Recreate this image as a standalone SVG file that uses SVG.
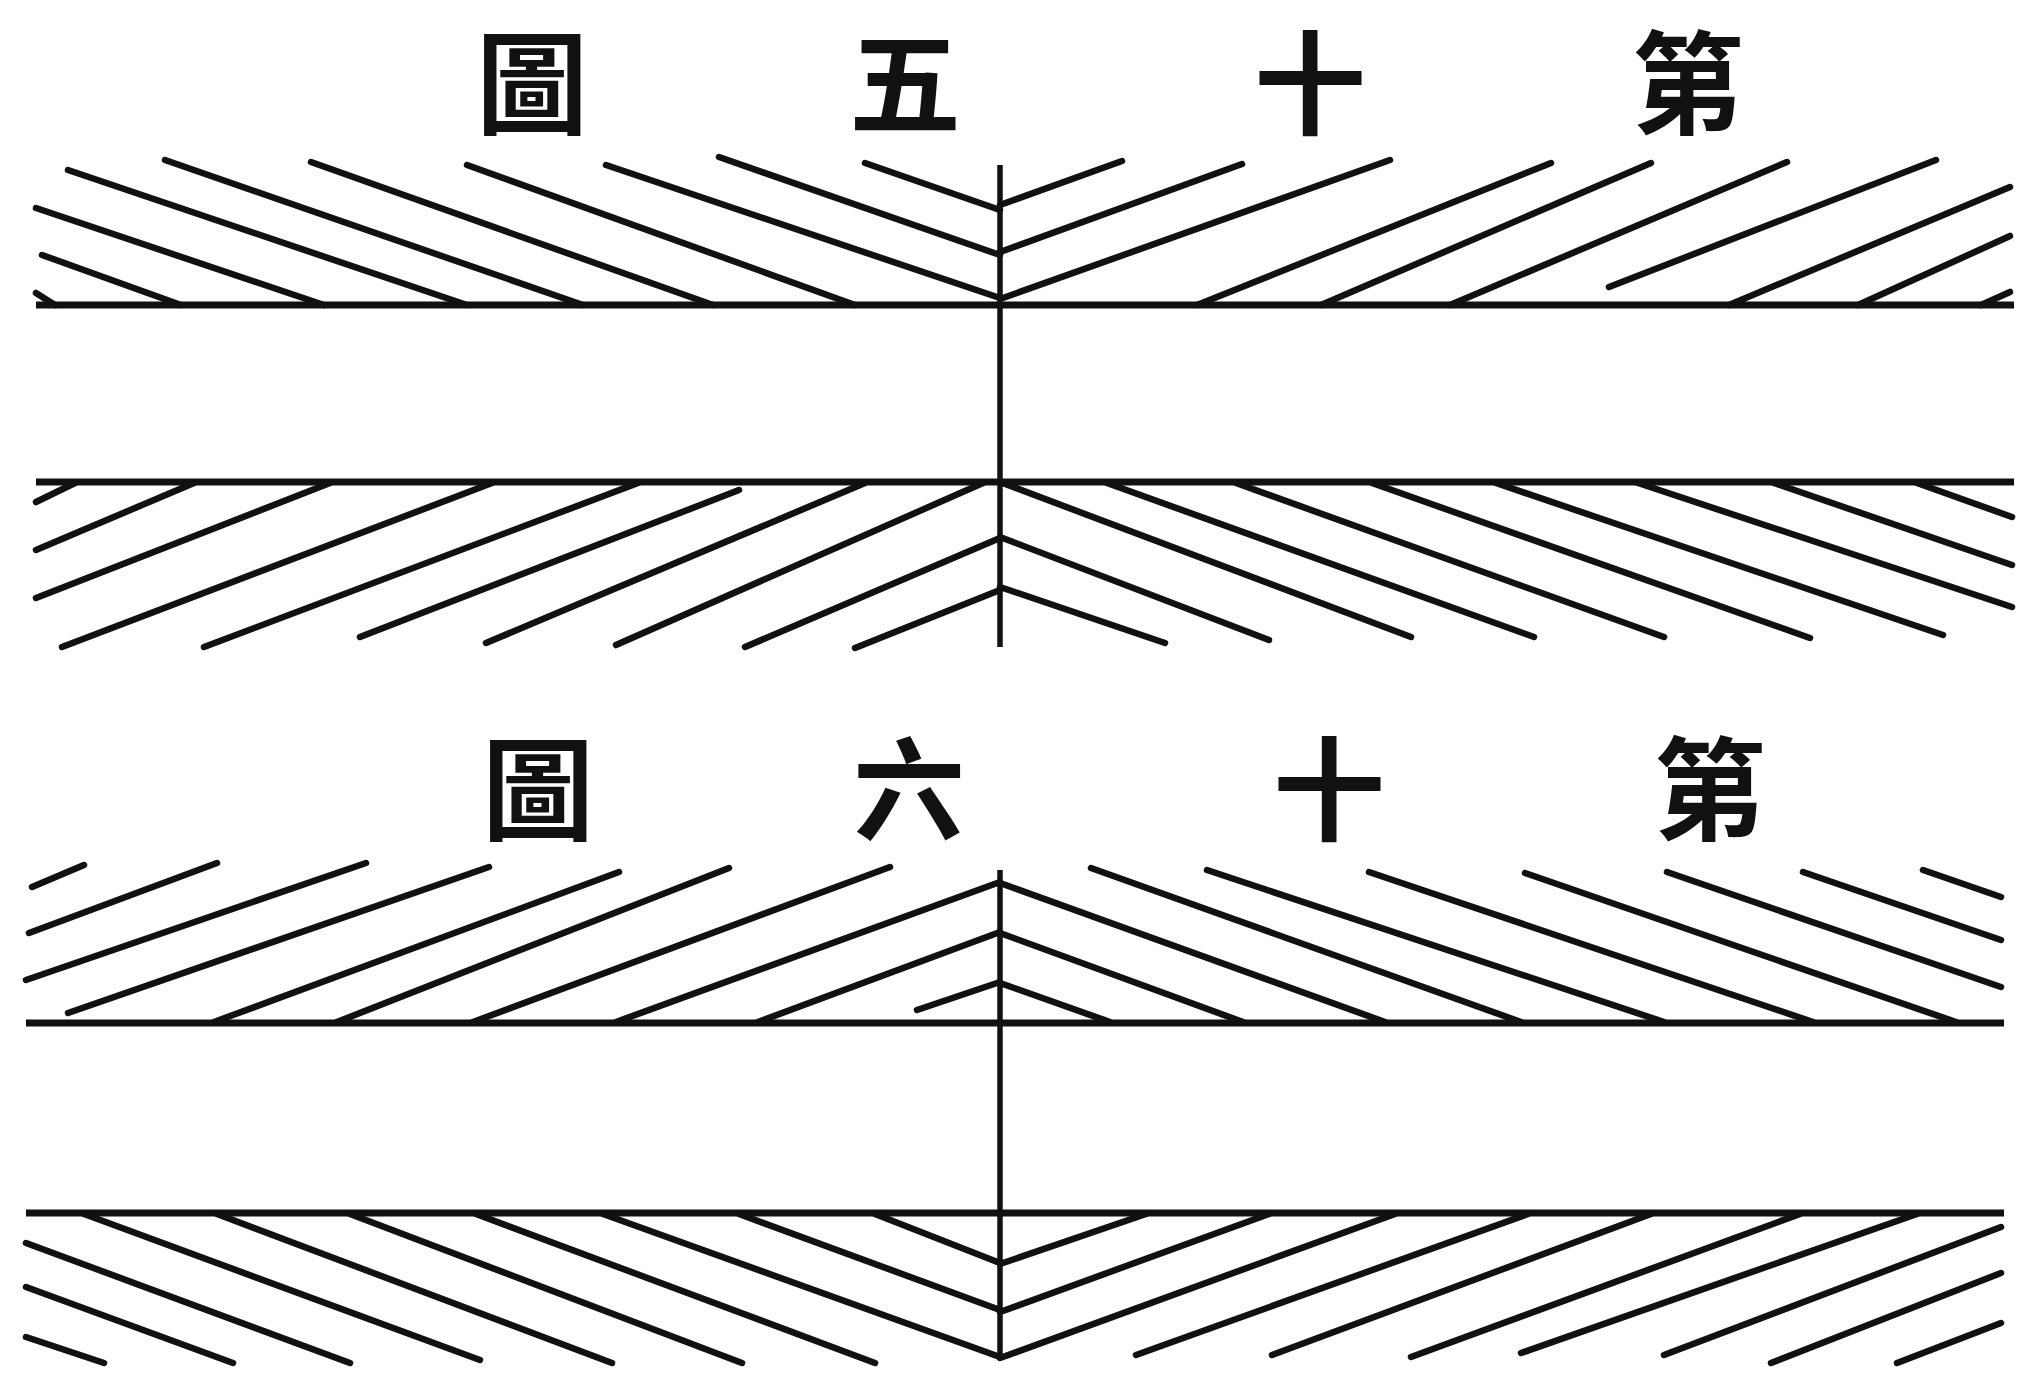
<svg xmlns="http://www.w3.org/2000/svg" width="2032" height="1374" viewBox="0 0 2032 1374">
<style>
.h{stroke:#111;stroke-width:6.5;stroke-linecap:round;fill:none}
.b{stroke:#111;stroke-width:7;stroke-linecap:butt;fill:none}
.v{stroke:#111;stroke-width:5.5;fill:none}
.t{font-family:"Noto Sans CJK TC","Noto Sans CJK JP",serif;font-size:112px;font-weight:700;fill:#111;text-anchor:middle}
</style>
<rect width="2032" height="1374" fill="#fff"/>
<g id="title15">
<text class="t" x="1688" y="126">第</text>
<text class="t" x="1310" y="126">十</text>
<text class="t" x="905" y="126">五</text>
<text class="t" x="532" y="126">圖</text>
</g>
<g id="fig15">
<path class="b" d="M36 305H2014M36 482H2014"/>
<path class="v" d="M1000 165V647"/>
<path class="h" d="M36 293L55 305M42 255L181 305M36 208L324 305M68 170L467 305M165 160L583 305M311 162L713 305M467 165L855 305M606 165L1000 298M719 157L1000 255M865 163L1000 210"/>
<path class="h" d="M1000 205L1122 161M1000 252L1242 164M1000 299L1390 160M1197 305L1551 163M1321 305L1651 163M1450 305L1787 162M1609 287L1936 160M1729 305L2010 187M1858 305L2010 236M1981 305L2010 292"/>
<path class="h" d="M36 502L75 483M36 550L194 483M36 598L330 483M62 647L492 483M204 647L638 483M360 637L739 490M486 643L865 483M616 645L983 483M745 647L1000 538M855 648L1000 590"/>
<path class="h" d="M1000 587L1165 643M1000 537L1269 640M1000 482L1411 637M1107 483L1534 637M1236 483L1664 637M1372 483L1810 638M1496 483L1943 635M1638 483L2012 607M1774 483L2012 565M1917 483L2012 517"/>
</g>
<g id="title16">
<text class="t" x="1710" y="832">第</text>
<text class="t" x="1329" y="832">十</text>
<text class="t" x="909" y="832">六</text>
<text class="t" x="538" y="832">圖</text>
</g>
<g id="fig16">
<path class="b" d="M26 1023H2004M26 1213H2004"/>
<path class="v" d="M1000 870V1360"/>
<path class="h" d="M32 887L84 865M29 933L217 863M26 980L366 863M68 1013L489 867M214 1022L619 872M337 1022L729 868M473 1022L890 867M616 1022L1000 882M758 1022L1000 932M917 1010L1000 982"/>
<path class="h" d="M1000 883L1385 1022M1000 933L1243 1022M1000 983L1110 1022M1091 868L1521 1022M1207 870L1664 1022M1369 872L1813 1022M1525 873L1956 1022M1667 872L2001 987M1803 872L2001 940M1923 870L2001 897"/>
<path class="h" d="M26 1337L104 1363M26 1287L233 1363M26 1243L350 1363M84 1214L480 1360M217 1214L612 1363M350 1214L742 1363M476 1214L875 1363M603 1214L1000 1357M739 1214L1000 1310M875 1214L1000 1263"/>
<path class="h" d="M1000 1264L1146 1214M1000 1312L1269 1214M1000 1358L1395 1214M1136 1355L1528 1214M1272 1355L1651 1214M1411 1357L1800 1214M1521 1353L1917 1214M1664 1355L2001 1227M1771 1363L2001 1273M1897 1363L2001 1323"/>
</g>
</svg>
